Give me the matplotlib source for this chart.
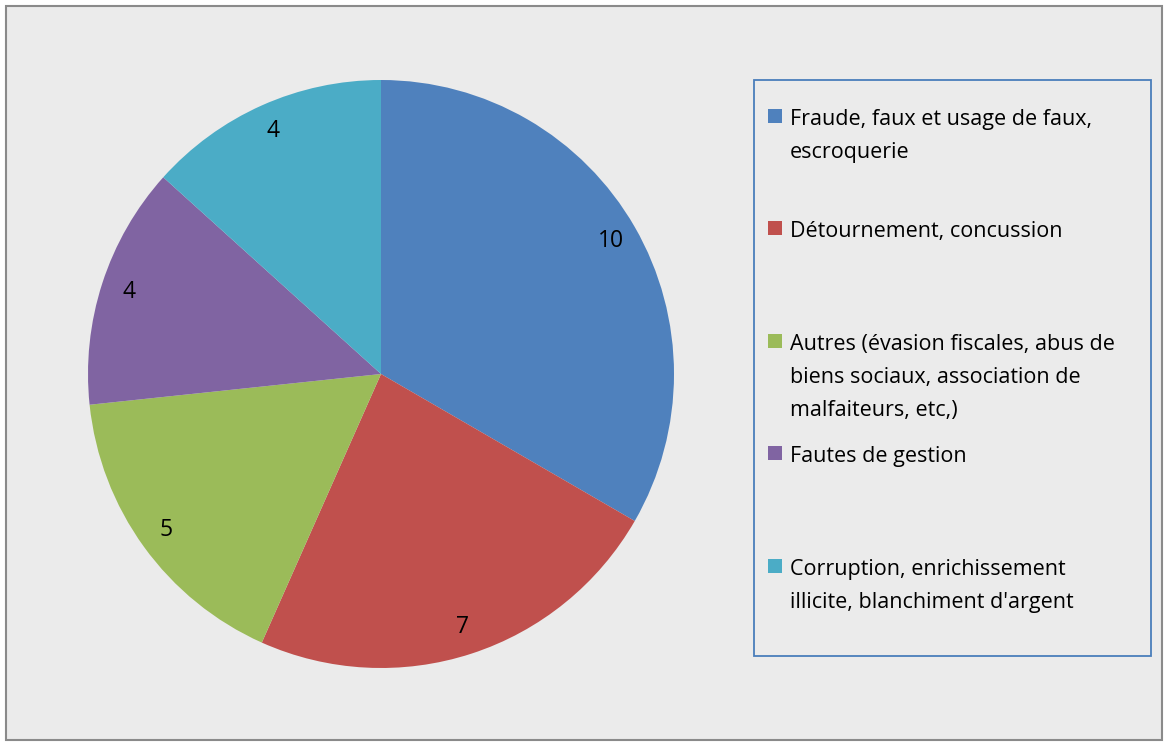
import matplotlib
matplotlib.use("Agg")
import matplotlib.pyplot as plt
from matplotlib.patches import Rectangle

categories = [
    "Fraude, faux et usage de faux,\nescroquerie",
    "Détournement, concussion",
    "Autres (évasion fiscales, abus de\nbiens sociaux, association de\nmalfaiteurs, etc,)",
    "Fautes de gestion",
    "Corruption, enrichissement\nillicite, blanchiment d'argent",
]
values = [10, 7, 5, 4, 4]
colors = ["#4F81BD", "#C0504D", "#9BBB59", "#8064A2", "#4BACC6"]

W, H = 1166, 743
fig = plt.figure(figsize=(W / 100, H / 100), dpi=100)
fig.patch.set_facecolor("white")

def fx(x):
    return x / W

def fy(y):
    return 1 - y / H

# chart area background and outer border
bg = Rectangle((fx(6), fy(740)), fx(1162) - fx(6), fy(6) - fy(740),
               transform=fig.transFigure, facecolor="#ebebeb",
               edgecolor="#8a8a8a", linewidth=1.5, zorder=-10)
fig.patches.append(bg)

# pie axes (square in pixels)
L, T, R, B = 88, 80, 674, 668
ax = fig.add_axes([fx(L), fy(B), fx(R) - fx(L), fy(T) - fy(B)])
ax.set_zorder(5)
ax.set_facecolor("none")
total = sum(values)
wedges, texts, autotexts = ax.pie(values, colors=colors, startangle=90, counterclock=False,
                                  radius=1.0, autopct=lambda p: f"{round(p * total / 100)}",
                                  pctdistance=0.905,
                                  textprops=dict(fontsize=16.5, family="Open Sans", color="black"))
ax.set_xlim(-1.0, 1.0)
ax.set_ylim(-1.0, 1.0)
ax.set_aspect("auto")
ax.axis("on")
ax.set_xticks([])
ax.set_yticks([])
for s in ax.spines.values():
    s.set_color("#4a7ebb")
    s.set_linewidth(1.3)

# legend box
fig.patches.append(Rectangle((fx(754), fy(656)), fx(1151) - fx(754), fy(80) - fy(656),
                             transform=fig.transFigure, facecolor="none",
                             edgecolor="#4a7ebb", linewidth=1.3, zorder=2))
first_baselines = [125, 237, 350, 462, 575]
line_step = 33
for lab, col, yb in zip(categories, colors, first_baselines):
    fig.patches.append(Rectangle((fx(768), fy(yb - 2)), fx(14), fy(0) - fy(14),
                                 transform=fig.transFigure, facecolor=col,
                                 edgecolor="none", zorder=3))
    for i, line in enumerate(lab.split("\n")):
        fig.text(fx(790), fy(yb + i * line_step), line, fontsize=15.5, family="Open Sans",
                 va="baseline", ha="left", color="black")

fig.savefig("out.png", dpi=100)
